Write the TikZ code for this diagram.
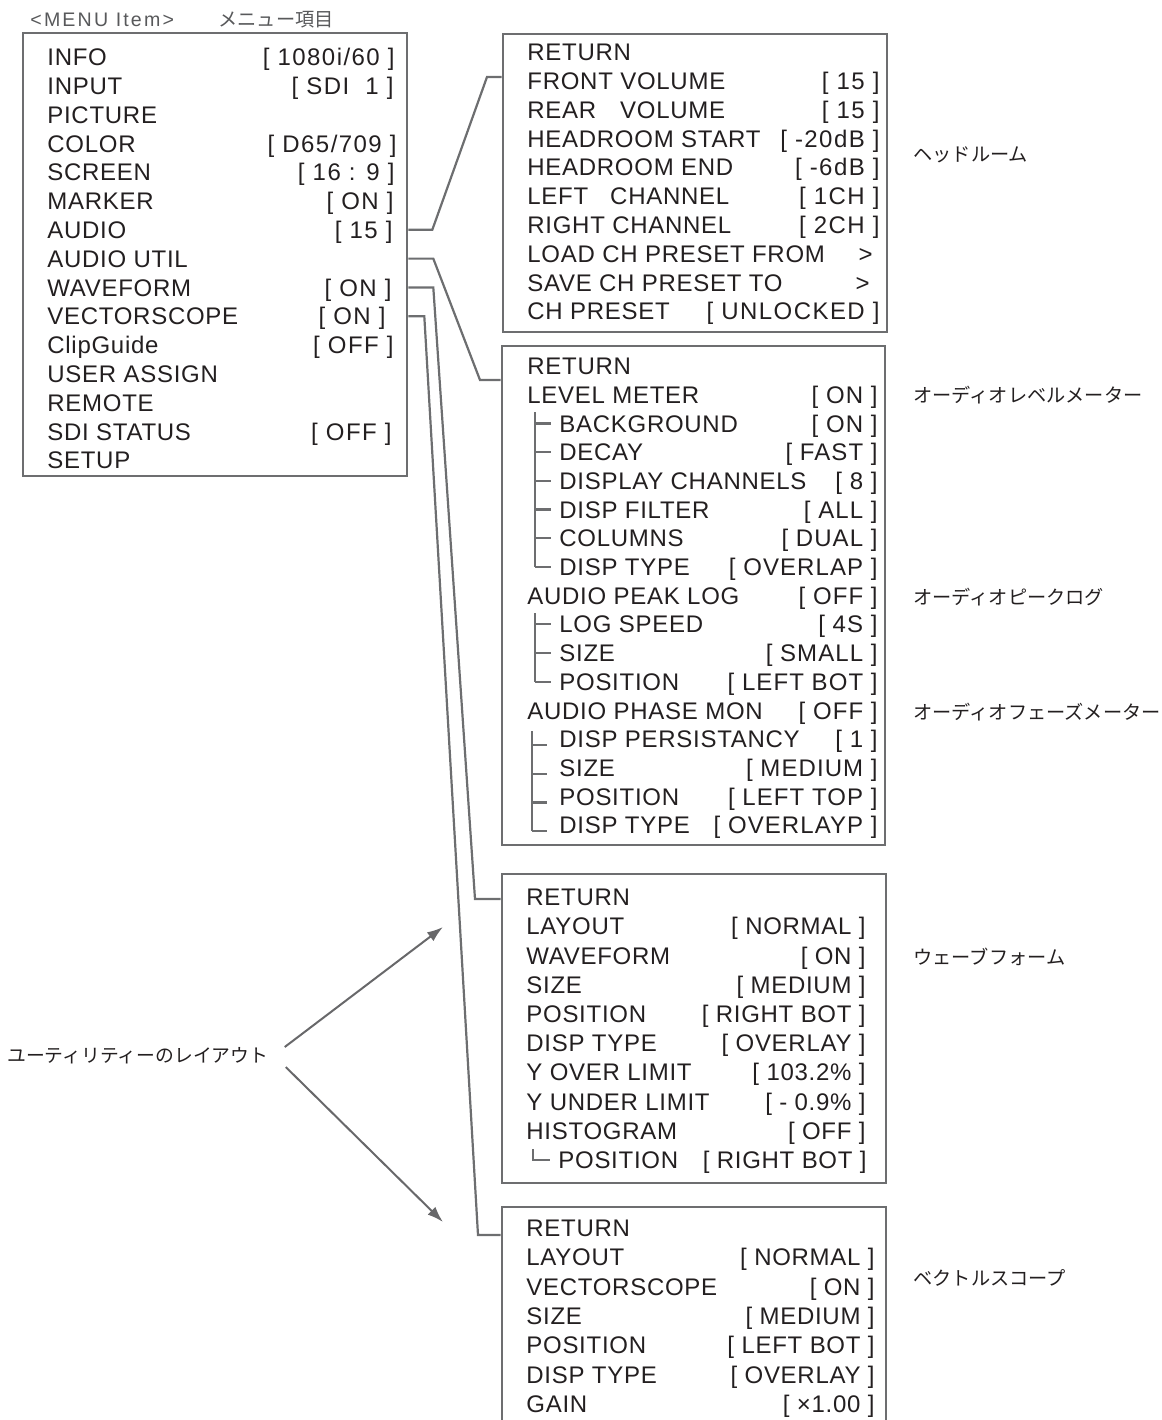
\documentclass[tikz,border=0pt]{standalone}
\usepackage{fontspec}
\setmainfont{Liberation Sans}
\newfontfamily\jpfont{Noto Sans CJK JP}
\newfontfamily\labfont[LetterSpace=3]{Liberation Sans}
\newfontfamily\valfont[LetterSpace=6]{Liberation Sans}
\newfontfamily\midfont[LetterSpace=4.5]{Liberation Sans}
\newfontfamily\spacedfont[LetterSpace=11]{Liberation Sans}
\usepackage{tikz}
\usetikzlibrary{arrows.meta,positioning,calc,fit}
\definecolor{MenuInk}{HTML}{231F20}
\definecolor{MenuGray}{HTML}{6D6E70}
\definecolor{HeadGray}{HTML}{58595B}
\tikzset{
  menubox/.style={draw=MenuGray,line width=1.3pt,inner sep=0pt},
  rowtxt/.style={inner sep=0pt,font=\labfont\fontsize{12}{14}\selectfont,text=MenuInk,text height=8.6pt,text depth=0pt},
  valtxt/.style={rowtxt,anchor=east,font=\valfont\fontsize{12}{14}\selectfont},
  midval/.style={rowtxt,anchor=east,font=\midfont\fontsize{12}{14}\selectfont},
  headtxt/.style={inner sep=0pt,anchor=west,text=HeadGray},
  jplabel/.style={inner sep=0pt,anchor=west,text=MenuInk,font=\jpfont\fontsize{9.6}{11}\selectfont},
  link/.style={draw=MenuGray,line width=1.1pt},
  treeline/.style={draw=MenuGray,line width=1.1pt},
  pointer/.style={-{Latex[length=8pt,width=5.5pt]},draw=MenuGray!95!black,line width=1pt}
}

\begin{document}
\begin{tikzpicture}[x=0.5pt,y=-0.5pt]
\useasboundingbox (0,0) rectangle (1162,1420);
\clip (0,0) rectangle (1162,1420);
% heading
\node[headtxt,font=\spacedfont\fontsize{9.8}{11}\selectfont] (hdlat) at (30,20) {<MENU Item>};
\node[headtxt,font=\jpfont\fontsize{9.6}{11}\selectfont] (hdjp) at (218,20) {メニュー項目};
% menu frames
\node[menubox,fit={(23,33) (407,476)}] (mainbox) {};
\node[menubox,fit={(503,34) (887,332)}] (hdbox) {};
\node[menubox,fit={(502,346) (885,845)}] (aubox) {};
\node[menubox,fit={(502,874) (886,1183)}] (wfbox) {};
\node[menubox,fit={(502,1207) (886,1445)}] (vsbox) {};
% main menu
\foreach \lab/\val/\xr [count=\i] in {INFO/{[ 1080i/60 ]}/395, INPUT/{[ SDI\ \ 1 ]}/394, PICTURE/{}/394,
  COLOR/{[ D65/709 ]}/397, SCREEN/{[ 16 : 9 ]}/395, MARKER/{[ ON ]}/394, AUDIO/{[ 15 ]}/393,
  AUDIO UTIL/{}/394, WAVEFORM/{[ ON ]}/392, VECTORSCOPE/{[ ON ]}/386, ClipGuide/{[ OFF ]}/394,
  USER ASSIGN/{}/394, REMOTE/{}/394, SDI STATUS/{[ OFF ]}/392, SETUP/{}/394}{
  \node[rowtxt,anchor=west] (m\i) at (47,{57+(\i-1)*28.8}) {\lab};
  \node[valtxt] (mv\i) at (\xr,{57+(\i-1)*28.8}) {\val};
}
% audio (headroom)
\foreach \lab/\val/\xr [count=\i] in {RETURN/{}/880, FRONT VOLUME/{[ 15 ]}/880,
  REAR\hspace{12pt}VOLUME/{[ 15 ]}/880, HEADROOM START/{[ -20dB ]}/880, HEADROOM END/{[ -6dB ]}/880,
  LEFT\hspace{11pt}CHANNEL/{[ 1CH ]}/880, RIGHT CHANNEL/{[ 2CH ]}/880,
  LOAD CH PRESET FROM/{>}/873, SAVE CH PRESET TO/{>}/870, CH PRESET/{[ UNLOCKED ]}/880}{
  \node[rowtxt,anchor=west] (h\i) at (527,{52+(\i-1)*28.8}) {\lab};
  \node[valtxt] (hv\i) at (\xr,{52+(\i-1)*28.8}) {\val};
}
% audio util
\foreach \i/\lab/\val in {1/RETURN/{}, 2/LEVEL METER/{[ ON ]}, 9/AUDIO PEAK LOG/{[ OFF ]},
  13/AUDIO PHASE MON/{[ OFF ]}}{
  \node[rowtxt,anchor=west] (u\i) at (527,{366+(\i-1)*28.7}) {\lab};
  \node[midval] (uv\i) at (878,{366+(\i-1)*28.7}) {\val};
}
\foreach \i/\lab/\val in {3/BACKGROUND/{[ ON ]}, 4/DECAY/{[ FAST ]}, 5/DISPLAY CHANNELS/{[ 8 ]},
  6/DISP FILTER/{[ ALL ]}, 7/COLUMNS/{[ DUAL ]}, 8/DISP TYPE/{[ OVERLAP ]}, 10/LOG SPEED/{[ 4S ]},
  11/SIZE/{[ SMALL ]}, 12/POSITION/{[ LEFT BOT ]}, 14/DISP PERSISTANCY/{[ 1 ]}, 15/SIZE/{[ MEDIUM ]},
  16/POSITION/{[ LEFT TOP ]}, 17/DISP TYPE/{[ OVERLAYP ]}}{
  \node[rowtxt,anchor=west] (u\i) at (559,{366+(\i-1)*28.7}) {\lab};
  \node[midval] (uv\i) at (878,{366+(\i-1)*28.7}) {\val};
}
% tree marks
\draw[treeline] (535,412) -- (535,{366+7*28.7});
\foreach \i in {3,...,8} \draw[treeline] (535,{366+(\i-1)*28.7}) -- ++(16,0);
\draw[treeline] (535,613) -- (535,{366+11*28.7});
\foreach \i in {10,11,12} \draw[treeline] (535,{366+(\i-1)*28.7}) -- ++(16,0);
\draw[treeline] (532,731) -- (532,{372+16*28.7});
\foreach \i in {14,...,17} \draw[treeline] (532,{372+(\i-1)*28.7}) -- ++(15,0);
% waveform
\foreach \lab/\val [count=\i] in {RETURN/{}, LAYOUT/{[ NORMAL ]}, WAVEFORM/{[ ON ]}, SIZE/{[ MEDIUM ]},
  POSITION/{[ RIGHT BOT ]}, DISP TYPE/{[ OVERLAY ]}, Y OVER LIMIT/{[ 103.2\% ]},
  Y UNDER LIMIT/{[ - 0.9\% ]}, HISTOGRAM/{[ OFF ]}}{
  \node[rowtxt,anchor=west] (w\i) at (526,{897+(\i-1)*29.2}) {\lab};
  \node[rowtxt,anchor=east] (wv\i) at (866,{897+(\i-1)*29.2}) {\val};
}
\node[rowtxt,anchor=west] (w10) at (558,{897+9*29.2}) {POSITION};
\node[rowtxt,anchor=east] (wv10) at (867,{897+9*29.2}) {[ RIGHT BOT ]};
\draw[treeline] (533,1149) |- (550,{897+9*29.2});
% vectorscope
\foreach \lab/\val [count=\i] in {RETURN/{}, LAYOUT/{[ NORMAL ]}, VECTORSCOPE/{[ ON ]}, SIZE/{[ MEDIUM ]},
  POSITION/{[ LEFT BOT ]}, DISP TYPE/{[ OVERLAY ]}, GAIN/{[ ×1.00 ]}}{
  \node[rowtxt,anchor=west] (v\i) at (526,{1228+(\i-1)*29.3}) {\lab};
  \node[rowtxt,anchor=east] (vv\i) at (875,{1228+(\i-1)*29.3}) {\val};
}
% links to sub menus
\draw[link] (mainbox.east |- m7) -- ++(24,0) -- (487,77) -- (hdbox.west |- 0,77);
\draw[link] (mainbox.east |- m8) -- ++(25,0) -- (480,380) -- (aubox.west |- 0,380);
\draw[link] (mainbox.east |- m9) -- ++(25,0) -- (475,899) -- (wfbox.west |- 0,899);
\draw[link] (mainbox.east |- m10) -- ++(16,0) -- (478,1235) -- (vsbox.west |- 0,1235);
% side notes
\node[jplabel] (nHead) at (913,155) {ヘッドルーム};
\node[jplabel] (nLevel) at (913,395) {オーディオレベルメーター};
\node[jplabel] (nPeak) at (913,597) {オーディオピークログ};
\node[jplabel] (nPhase) at (913,712) {オーディオフェーズメーター};
\node[jplabel] (nWave) at (913,957) {ウェーブフォーム};
\node[jplabel] (nVec) at (913,1278) {ベクトルスコープ};
\node[jplabel,font=\jpfont\fontsize{9.4}{11}\selectfont] (util) at (7,1056) {ユーティリティーのレイアウト};
\coordinate (wfTip) at (443,927);
\coordinate (vsTip) at (443,1222);
\draw[pointer] ([shift={(16,-9)}]util.east) -- (wfTip);
\draw[pointer] ([shift={(17,11)}]util.east) -- (vsTip);
\end{tikzpicture}
\end{document}
